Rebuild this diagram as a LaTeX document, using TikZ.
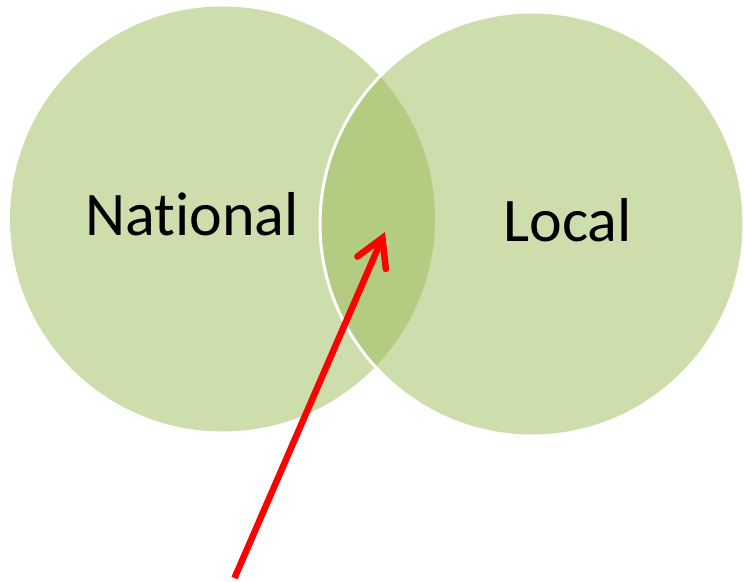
\documentclass[tikz,border=0pt]{standalone}
\usepackage{fontspec}
\setmainfont{Carlito}[Ligatures={NoCommon}]
\usetikzlibrary{arrows.meta}
\definecolor{venn}{HTML}{9BBB59}
\definecolor{arrowred}{HTML}{FF0000}
\tikzset{
  vennset/.style={fill=venn, fill opacity=0.5},
  vennlabel/.style={font=\fontsize{62}{70}\selectfont, text=black, inner sep=0pt, anchor=base},
  pointer/.style={draw=arrowred, line width=6.5pt, -{Straight Barb[length=27pt, width=31pt, line cap=round]}}
}
\begin{document}
\begin{tikzpicture}[x=1pt, y=-1pt]
\useasboundingbox (0,0) rectangle (744,581);
\fill[vennset] (222.5,219) circle (212.5);
\fill[vennset] (532,224) circle (212);
\draw[white, line width=3pt] (532,224) circle (212);
\node[vennlabel] (national) at (192,235.7) {Nat\kern0pt ional};
\node[vennlabel] (local) at (567.5,241.7) {Local};
\coordinate (tail) at (234.5,578);
\coordinate (tip) at (385,232);
\draw[pointer] (tail) -- (tip);
\end{tikzpicture}
\end{document}
